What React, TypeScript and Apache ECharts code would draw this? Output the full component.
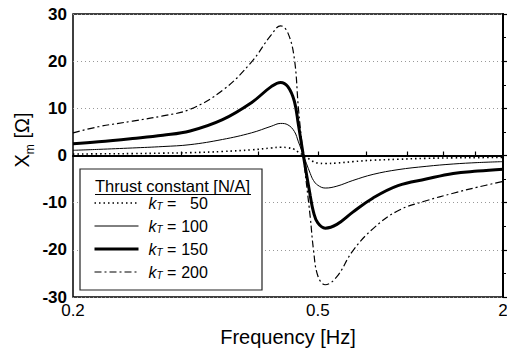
import React, { useEffect, useRef } from "react";
import * as echarts from "echarts";

// Frequency samples [Hz]
const freq = [0.2, 0.22, 0.25, 0.28, 0.31, 0.35, 0.39, 0.42, 0.435, 0.447, 0.458, 0.465, 0.473, 0.486, 0.492, 0.5, 0.514, 0.537, 0.57, 0.615, 0.675, 0.75, 0.83, 0.91, 1.0];
// X_m [Ohm] for each thrust constant
const kT50 = [0.3, 0.35, 0.4, 0.5, 0.6, 0.85, 1.2, 1.6, 1.75, 1.65, 1.3, 0.7, 0.1, -0.9, -1.3, -1.6, -1.7, -1.6, -1.3, -1.0, -0.8, -0.6, -0.5, -0.45, -0.4];
const kT100 = [1.1, 1.3, 1.6, 1.9, 2.3, 3.4, 4.8, 6.2, 6.8, 6.5, 5.1, 2.9, 0.3, -3.8, -5.3, -6.3, -6.9, -6.5, -5.3, -4.0, -3.0, -2.3, -1.8, -1.5, -1.3];
const kT150 = [2.5, 2.9, 3.6, 4.3, 5.2, 7.6, 11.2, 14.6, 15.5, 14.6, 11.5, 6.5, 0.5, -8.5, -12, -14.3, -15.4, -14.6, -12, -9.0, -6.4, -5.0, -3.8, -3.3, -2.9];
const kT200 = [4.8, 6.1, 7.3, 8.4, 9.8, 13.8, 19.8, 25.6, 27.5, 26.0, 20.5, 10.0, 0.5, -13, -20, -25.5, -27.4, -25.7, -20.2, -15.5, -11.7, -9.6, -8.0, -6.7, -5.5];

const kValues = ["50", "100", "150", "200"];
const xLabelValues = [0.2, 0.5, 1.0];
const xLabelTexts = ["0.2", "0.5", "2"];
const xMinorTicks = [0.3, 0.4, 0.5, 0.6, 0.7, 0.8, 0.9];
const yTicks = [-30, -20, -10, 0, 10, 20, 30];

const FONT = "Liberation Sans";

export default function App() {
  const ref = useRef<HTMLDivElement>(null);
  useEffect(() => {
    if (!ref.current) return;
    const chart = echarts.init(ref.current, null, { renderer: "svg" });
    const lg = (v: number) => Math.log10(v);
    const mk = (ys: number[]) => freq.map((f, i) => [lg(f), ys[i]]);
    const styles = [
      { width: 1.6, type: [1.5, 3] as any },
      { width: 1, type: "solid" as any },
      { width: 3, type: "solid" as any },
      { width: 1.2, type: [7, 3, 2, 3] as any },
    ];
    const datas = [kT50, kT100, kT150, kT200];
    const series: any[] = datas.map((d, i) => ({
      name: "kT" + kValues[i],
      type: "line",
      data: mk(d),
      symbol: "none",
      showSymbol: false,
      smooth: 0.4,
      lineStyle: { color: "#000", width: styles[i].width, type: styles[i].type },
      itemStyle: { color: "#000" },
      z: 2,
    }));
    series[0].markLine = {
      silent: true,
      symbol: "none",
      label: { show: false },
      lineStyle: { color: "#000", width: 1.5, type: "solid" },
      data: [{ yAxis: 0 }],
      z: 1,
    };
    const option: any = {
      animation: false,
      grid: {
        left: 73, right: 4, top: 14, bottom: 53,
        outerBoundsMode: "none",
        containLabel: false,
        show: true, borderColor: "#000", borderWidth: 1.5,
      },
      xAxis: {
        type: "value",
        min: lg(0.2),
        max: 0,
        axisLine: { show: true, lineStyle: { color: "#000", width: 2 } },
        axisTick: {
          show: true, inside: true, length: 4,
          customValues: xMinorTicks.map(lg),
          lineStyle: { color: "#000", width: 1.2 },
        },
        axisLabel: {
          customValues: xLabelValues.map(lg),
          formatter: (v: number) => {
            let best = 0;
            xLabelValues.forEach((t, i) => {
              if (Math.abs(lg(t) - v) < Math.abs(lg(xLabelValues[best]) - v)) best = i;
            });
            return xLabelTexts[best];
          },
          fontFamily: FONT, fontSize: 17, color: "#000", margin: 5,
        },
        splitLine: { show: false },
        name: "Frequency [Hz]",
        nameLocation: "middle",
        nameGap: 30,
        nameTextStyle: { fontFamily: FONT, fontSize: 20, color: "#000", lineHeight: 20 },
      },
      yAxis: {
        type: "value",
        min: -30, max: 30, interval: 10,
        axisLine: { show: true, lineStyle: { color: "#000", width: 2 } },
        axisTick: { show: true, inside: true, length: 5, lineStyle: { color: "#000", width: 1.2 } },
        minorTick: { show: true, splitNumber: 2, length: 3, lineStyle: { color: "#000", width: 1 } },
        axisLabel: {
          fontFamily: FONT, fontSize: 17, fontWeight: "bold", color: "#000", margin: 6,
          customValues: yTicks,
        },
        splitLine: { show: true, lineStyle: { color: "#999", width: 1, type: [1, 3] } },
      },
      legend: {
        orient: "vertical",
        left: 93,
        top: 195,
        padding: 0,
        itemWidth: 44,
        itemHeight: 14,
        itemGap: 7,
        selectedMode: false,
        z: 5,
        itemStyle: { opacity: 0 },
        data: series.map((s, i) => ({
          name: s.name,
          itemStyle: { opacity: 0 },
          lineStyle: { color: "#000", width: styles[i].width, type: styles[i].type, opacity: 1 },
        })),
        formatter: (name: string) => {
          const v = name.replace("kT", "");
          return `{sp|}{k|k}{t|T}{e| = }{v|${v}}`;
        },
        textStyle: {
          fontFamily: FONT, fontSize: 16, color: "#000",
          rich: {
            sp: { width: 5, lineHeight: 16 },
            k: { fontFamily: FONT, fontSize: 16, fontStyle: "italic", lineHeight: 16, verticalAlign: "middle" },
            t: { fontFamily: FONT, fontSize: 10, fontStyle: "italic", lineHeight: 16, verticalAlign: "bottom" },
            e: { fontFamily: FONT, fontSize: 16, lineHeight: 16, verticalAlign: "middle" },
            v: { fontFamily: FONT, fontSize: 16, lineHeight: 16, verticalAlign: "middle", width: 27, align: "right" },
          },
        },
      },
      graphic: [
        {
          type: "rect", z: 3,
          shape: { x: 80, y: 169, width: 182, height: 121 },
          style: { fill: "#fff", stroke: "#222", lineWidth: 1.2 },
        },
        {
          type: "text", z: 6, x: 95, y: 186,
          style: {
            text: "Thrust constant [N/A]", fontFamily: FONT, fontSize: 16.5, lineHeight: 16,
            fill: "#000", verticalAlign: "middle", align: "left",
          },
        },
        {
          type: "line", z: 6,
          shape: { x1: 95, y1: 194.5, x2: 251, y2: 194.5 },
          style: { stroke: "#000", lineWidth: 1 },
        },
        {
          type: "text", z: 6, x: 22, y: 140, rotation: Math.PI / 2,
          style: {
            text: "{a|X}{b|m}{a| [Ω]}",
            align: "center", verticalAlign: "middle", fill: "#000",
            rich: {
              a: { fontFamily: FONT, fontSize: 20, lineHeight: 28, verticalAlign: "middle" },
              b: { fontFamily: FONT, fontSize: 12, lineHeight: 28, verticalAlign: "bottom" },
            },
          },
        },
      ],
      series,
    };
    chart.setOption(option);
    return () => chart.dispose();
  }, []);
  return (
    <div
      ref={ref}
      style={{ position: "absolute", left: 0, top: 0, width: 507, height: 350, background: "#fff" }}
    />
  );
}
